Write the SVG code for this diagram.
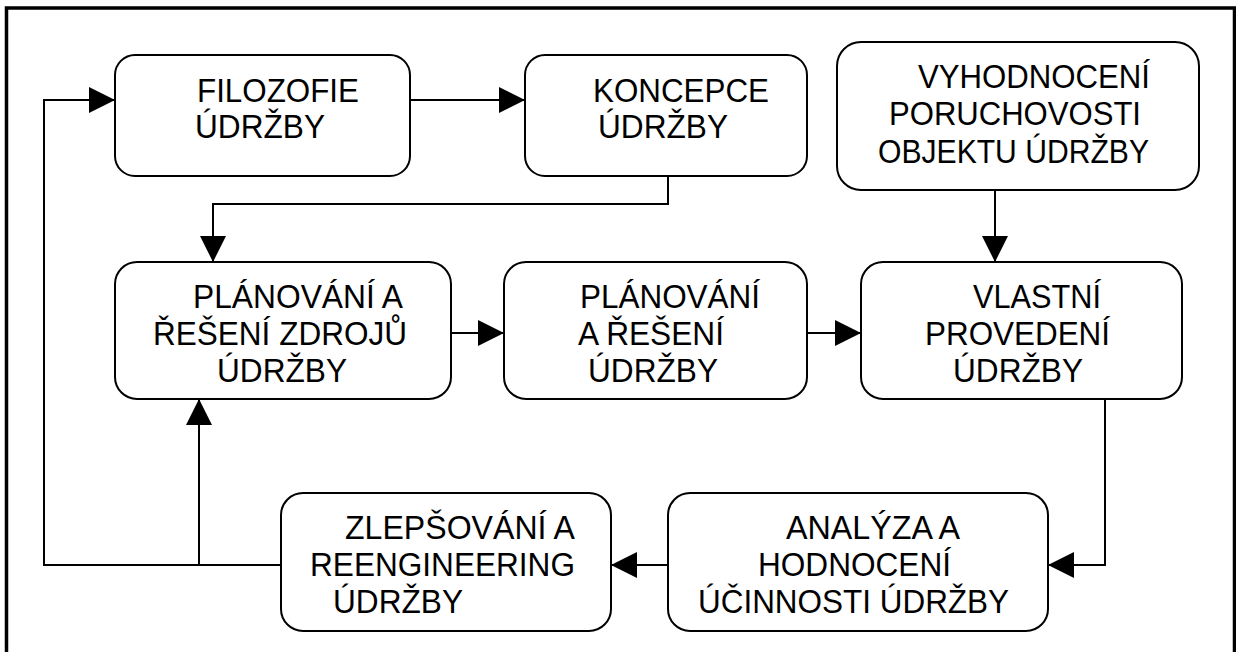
<svg xmlns="http://www.w3.org/2000/svg" width="1236" height="652" viewBox="0 0 1236 652">
  <style>
    .box { fill: #ffffff; stroke: #000000; stroke-width: 2; }
    .lbl { font-family: "Liberation Sans", Arial, sans-serif; font-size: 33px; fill: #000000; }
    .con { fill: none; stroke: #000000; stroke-width: 2; }
    .frame { fill: none; stroke: #000000; stroke-width: 3.5; }
  </style>
  <defs>
    <marker id="arrow" markerUnits="userSpaceOnUse" markerWidth="26" markerHeight="26" refX="26" refY="13" orient="auto">
      <path d="M0,0 L26,13 L0,26 Z" fill="#000000"/>
    </marker>
  </defs>
  <rect width="1236" height="652" fill="#ffffff"/>

  <!-- outer frame -->
  <path class="frame" d="M6.5,652 V8 H1234.5 V652"/>

  <!-- connectors -->
  <g id="connectors">
    <path class="con" d="M410,100 H525" marker-end="url(#arrow)"/>
    <path class="con" d="M668,160 V204 H213 V262" marker-end="url(#arrow)"/>
    <path class="con" d="M995,173 V262" marker-end="url(#arrow)"/>
    <path class="con" d="M451,333 H504" marker-end="url(#arrow)"/>
    <path class="con" d="M807,333 H861" marker-end="url(#arrow)"/>
    <path class="con" d="M1105,399 V565 H1048" marker-end="url(#arrow)"/>
    <path class="con" d="M668,565 H611" marker-end="url(#arrow)"/>
    <path class="con" d="M281,565 H44 V100 H115" marker-end="url(#arrow)"/>
    <path class="con" d="M199,565 V399" marker-end="url(#arrow)"/>
  </g>

  <g id="filozofie">
    <rect class="box" x="115" y="55" width="295" height="121" rx="20"/>
    <text class="lbl" x="197" y="102" textLength="162" lengthAdjust="spacingAndGlyphs">FILOZOFIE</text>
    <text class="lbl" x="195" y="138" textLength="130" lengthAdjust="spacingAndGlyphs">ÚDRŽBY</text>
  </g>

  <g id="koncepce">
    <rect class="box" x="525" y="55" width="282" height="121" rx="20"/>
    <text class="lbl" x="593" y="102" textLength="176" lengthAdjust="spacingAndGlyphs">KONCEPCE</text>
    <text class="lbl" x="598" y="138" textLength="130" lengthAdjust="spacingAndGlyphs">ÚDRŽBY</text>
  </g>

  <g id="vyhodnoceni">
    <rect class="box" x="837" y="42" width="362" height="148" rx="24"/>
    <text class="lbl" x="918" y="88" textLength="232" lengthAdjust="spacingAndGlyphs">VYHODNOCENÍ</text>
    <text class="lbl" x="889" y="125" textLength="252" lengthAdjust="spacingAndGlyphs">PORUCHOVOSTI</text>
    <text class="lbl" x="878" y="163" textLength="271" lengthAdjust="spacingAndGlyphs">OBJEKTU ÚDRŽBY</text>
  </g>

  <g id="planovani-zdroju">
    <rect class="box" x="115" y="262" width="336" height="137" rx="22"/>
    <text class="lbl" x="193" y="308" textLength="210" lengthAdjust="spacingAndGlyphs">PLÁNOVÁNÍ A</text>
    <text class="lbl" x="153" y="345" textLength="254" lengthAdjust="spacingAndGlyphs">ŘEŠENÍ ZDROJŮ</text>
    <text class="lbl" x="217" y="382" textLength="130" lengthAdjust="spacingAndGlyphs">ÚDRŽBY</text>
  </g>

  <g id="planovani-reseni">
    <rect class="box" x="504" y="262" width="303" height="137" rx="22"/>
    <text class="lbl" x="580" y="308" textLength="180" lengthAdjust="spacingAndGlyphs">PLÁNOVÁNÍ</text>
    <text class="lbl" x="578" y="345" textLength="146" lengthAdjust="spacingAndGlyphs">A ŘEŠENÍ</text>
    <text class="lbl" x="588" y="382" textLength="130" lengthAdjust="spacingAndGlyphs">ÚDRŽBY</text>
  </g>

  <g id="vlastni-provedeni">
    <rect class="box" x="861" y="262" width="321" height="137" rx="22"/>
    <text class="lbl" x="973" y="308" textLength="128" lengthAdjust="spacingAndGlyphs">VLASTNÍ</text>
    <text class="lbl" x="925" y="345" textLength="185" lengthAdjust="spacingAndGlyphs">PROVEDENÍ</text>
    <text class="lbl" x="953" y="382" textLength="130" lengthAdjust="spacingAndGlyphs">ÚDRŽBY</text>
  </g>

  <g id="zlepsovani">
    <rect class="box" x="281" y="493" width="330" height="138" rx="22"/>
    <text class="lbl" x="345" y="539" textLength="230" lengthAdjust="spacingAndGlyphs">ZLEPŠOVÁNÍ A</text>
    <text class="lbl" x="310" y="576" textLength="265" lengthAdjust="spacingAndGlyphs">REENGINEERING</text>
    <text class="lbl" x="333" y="613" textLength="130" lengthAdjust="spacingAndGlyphs">ÚDRŽBY</text>
  </g>

  <g id="analyza">
    <rect class="box" x="668" y="493" width="380" height="138" rx="22"/>
    <text class="lbl" x="786" y="539" textLength="174" lengthAdjust="spacingAndGlyphs">ANALÝZA A</text>
    <text class="lbl" x="758" y="576" textLength="193" lengthAdjust="spacingAndGlyphs">HODNOCENÍ</text>
    <text class="lbl" x="698" y="613" textLength="311" lengthAdjust="spacingAndGlyphs">ÚČINNOSTI ÚDRŽBY</text>
  </g>
</svg>
